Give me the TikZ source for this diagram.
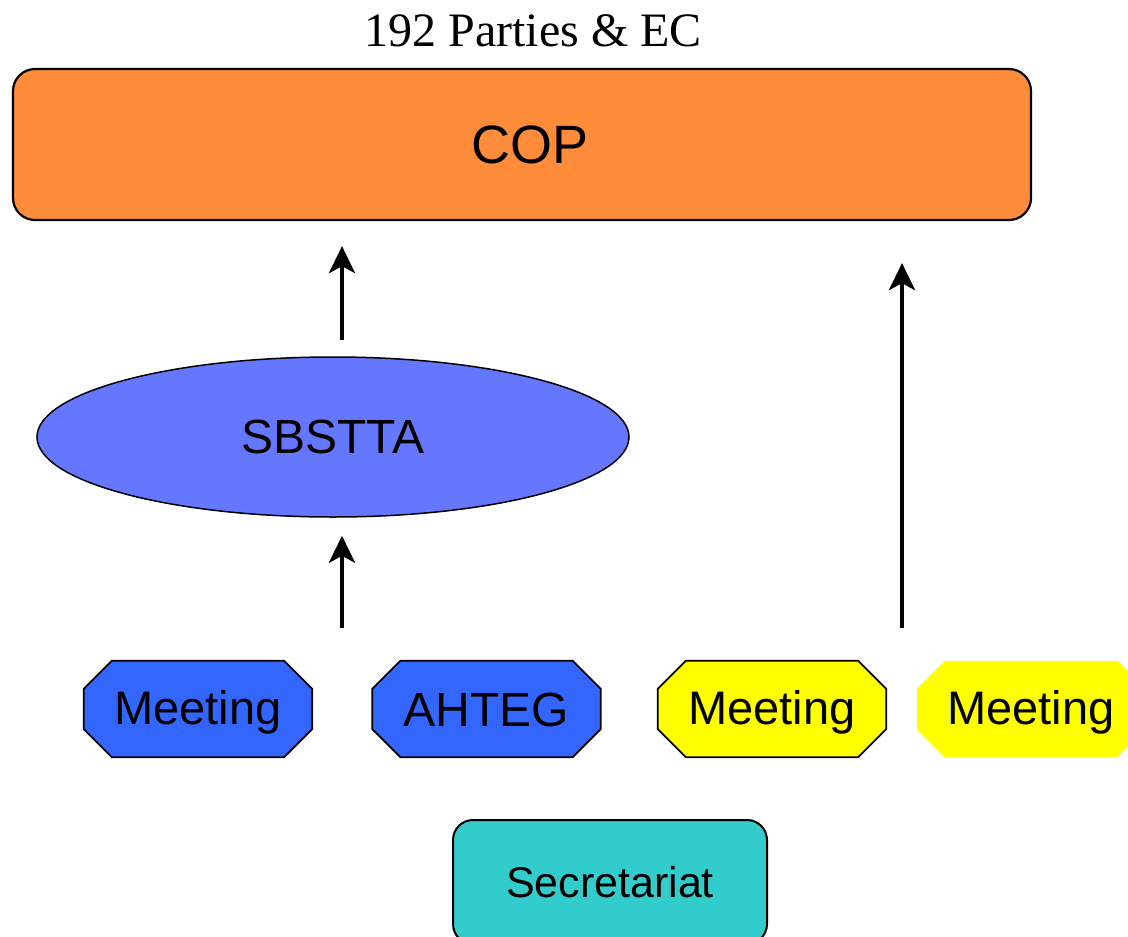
\documentclass[tikz,border=0pt]{standalone}
\usepackage{fontspec}
\setmainfont{Liberation Serif}
\newfontfamily\arialf{Liberation Sans}
\usetikzlibrary{shapes.geometric,arrows.meta,backgrounds}
\definecolor{coporange}{HTML}{FF8C3A}
\definecolor{ellblue}{HTML}{6677FF}
\definecolor{octblue}{HTML}{3366FF}
\definecolor{octyellow}{HTML}{FFFF00}
\definecolor{secteal}{HTML}{33CCCC}
\tikzset{
  octframe/.style={minimum width=228pt, minimum height=96pt, inner sep=0pt},
  octtext/.style={font=\arialf\fontsize{47}{54}\selectfont, inner sep=0pt},
  octline/.style={draw=black, line width=1.8pt},
  arr/.style={line width=4.5pt, -{Stealth[length=27pt,width=26pt,inset=7pt]}},
}
% #1 node name, #2 style of the outline
\newcommand\myoctagon[2]{%
  \begin{scope}[on background layer]
  \path[#2] ([xshift=28pt]#1.north west) -- ([xshift=-28pt]#1.north east)
    -- ([yshift=-28pt]#1.north east) -- ([yshift=28pt]#1.south east)
    -- ([xshift=-28pt]#1.south east) -- ([xshift=28pt]#1.south west)
    -- ([yshift=28pt]#1.south west) -- ([yshift=-28pt]#1.north west) -- cycle;
  \end{scope}}
\begin{document}
\begin{tikzpicture}[x=1pt,y=-1pt]
\useasboundingbox (0,0) rectangle (1128,937);
\clip (0,0) rectangle (1128,937);
\node (title) at (533,31) {\fontsize{48}{56}\selectfont 192 Parties \& EC};
\node[draw=black, line width=2.2pt, fill=coporange, rounded corners=22pt, minimum width=1018pt, minimum height=151pt, inner sep=0pt] (cop) at (522,144.5) {};
\node[font=\arialf\fontsize{54}{62}\selectfont] (coptext) at ([xshift=8pt]cop.center) {COP};
\node[ellipse, draw=black, line width=1.5pt, fill=ellblue, minimum width=592pt, minimum height=160pt, inner sep=0pt,
  font=\arialf\fontsize{48}{56}\selectfont] (sbstta) at (333,437) {SBSTTA};
\node[octframe] (m1) at (198,709) {};
\node[octtext] (m1t) at ([yshift=-3pt]m1.center) {Meeting};
\myoctagon{m1}{fill=octblue, octline}
\node[octframe] (ahteg) at (486.5,709) {};
\node[octtext, font=\arialf\fontsize{48}{56}\selectfont] (ahtegt) at ([yshift=-1pt]ahteg.center) {AHTEG};
\myoctagon{ahteg}{fill=octblue, octline}
\node[octframe] (m3) at (772,709) {};
\node[octtext] (m3t) at ([yshift=-3pt]m3.center) {Meeting};
\myoctagon{m3}{fill=octyellow, octline}
\node[octframe] (m4) at (1031,709) {};
\node[octtext] (m4t) at ([yshift=-3pt]m4.center) {Meeting};
\myoctagon{m4}{fill=octyellow}
\node[draw=black, line width=2pt, fill=secteal, rounded corners=20pt, minimum width=314pt, minimum height=124pt, inner sep=0pt,
  font=\arialf\fontsize{43}{50}\selectfont] (sec) at (610,882) {Secretariat};
\coordinate (xa) at (342,0);
\coordinate (xb) at (902,0);
\draw[arr, shorten <=16pt, shorten >=25pt] (sbstta.north -| xa) -- (cop.south -| xa);
\draw[arr, shorten <=33pt, shorten >=18pt] (m1.north -| xa) -- (sbstta.south -| xa);
\draw[arr, shorten <=33pt, shorten >=42pt] (m3.north -| xb) -- (cop.south -| xb);
\end{tikzpicture}
\end{document}
